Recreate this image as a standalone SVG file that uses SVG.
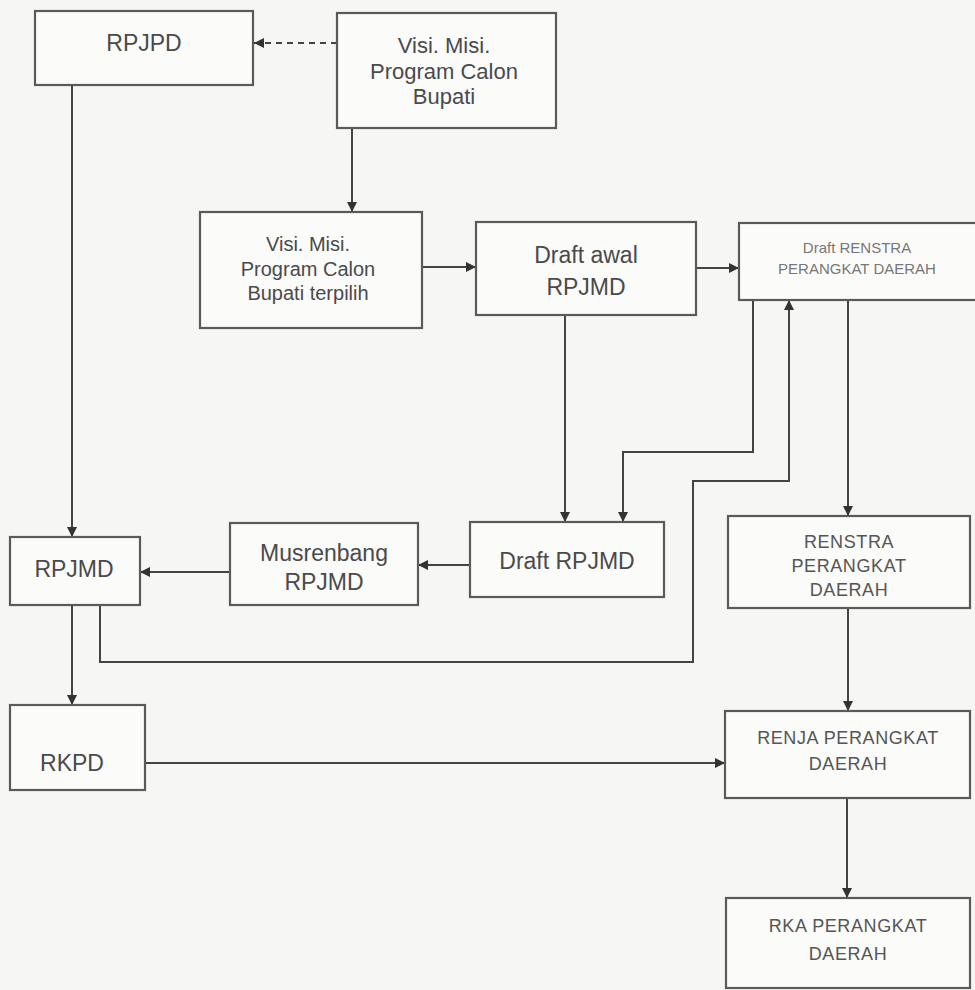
<svg xmlns="http://www.w3.org/2000/svg" width="975" height="990" viewBox="0 0 975 990">
<defs>
<marker id="ah" viewBox="0 0 10 10" refX="10" refY="5" markerWidth="10" markerHeight="10" markerUnits="userSpaceOnUse" orient="auto">
<path d="M0,0 L10,5 L0,10 z" fill="#333"/>
</marker>
</defs>
<style>
.box{fill:#fbfbfa;stroke:#5a5a5a;stroke-width:2.2}
.t{font-family:"Liberation Sans",Arial,sans-serif;font-size:23px;fill:#4a4a4a;text-anchor:middle}
.m{font-size:20px}
.v{font-size:22px}
.s{font-size:18px;letter-spacing:0.6px;fill:#555}
.xs{font-size:15px;fill:#777}
.c{fill:none;stroke:#444;stroke-width:2}
.d{stroke-dasharray:6 5}
</style>
<rect width="975" height="990" fill="#f6f6f4"/>
<g id="connectors">
<path class="c d" d="M337,43 L254,43" marker-end="url(#ah)"/>
<path class="c" d="M352,128 L352,212" marker-end="url(#ah)"/>
<path class="c" d="M422,267 L476,267" marker-end="url(#ah)"/>
<path class="c" d="M696,268 L739,268" marker-end="url(#ah)"/>
<path class="c" d="M72,85 L72,537" marker-end="url(#ah)"/>
<path class="c" d="M565,315 L565,522" marker-end="url(#ah)"/>
<path class="c" d="M753,300 L753,452 L623,452 L623,522" marker-end="url(#ah)"/>
<path class="c" d="M100,605 L100,662 L693,662 L693,481 L789,481 L789,300" marker-end="url(#ah)"/>
<path class="c" d="M470,565 L418,565" marker-end="url(#ah)"/>
<path class="c" d="M230,572 L140,572" marker-end="url(#ah)"/>
<path class="c" d="M72,605 L72,705" marker-end="url(#ah)"/>
<path class="c" d="M145,763 L725,763" marker-end="url(#ah)"/>
<path class="c" d="M848,300 L848,516" marker-end="url(#ah)"/>
<path class="c" d="M848,608 L848,711" marker-end="url(#ah)"/>
<path class="c" d="M847,798 L847,898" marker-end="url(#ah)"/>
</g>
<g id="rpjpd"><rect class="box" x="35" y="11" width="218" height="74"/><text class="t" x="144" y="51">RPJPD</text></g>
<g id="visi"><rect class="box" x="337" y="13" width="219" height="115"/>
<text class="t v" x="444" y="53">Visi. Misi.</text><text class="t v" x="444" y="79">Program Calon</text><text class="t v" x="444" y="104">Bupati</text></g>
<g id="visi-terpilih"><rect class="box" x="200" y="212" width="222" height="116"/>
<text class="t m" x="308" y="251">Visi. Misi.</text><text class="t m" x="308" y="276">Program Calon</text><text class="t m" x="308" y="300">Bupati terpilih</text></g>
<g id="draft-awal"><rect class="box" x="476" y="222" width="220" height="93"/>
<text class="t" x="586" y="263">Draft awal</text><text class="t" x="586" y="295">RPJMD</text></g>
<g id="draft-renstra"><rect class="box" x="739" y="223" width="240" height="77"/>
<text class="t xs" x="857" y="253">Draft RENSTRA</text><text class="t xs" x="857" y="274">PERANGKAT DAERAH</text></g>
<g id="draft-rpjmd"><rect class="box" x="470" y="522" width="194" height="75"/>
<text class="t" x="567" y="569">Draft RPJMD</text></g>
<g id="musrenbang"><rect class="box" x="230" y="523" width="188" height="82"/>
<text class="t" x="324" y="561">Musrenbang</text><text class="t" x="324" y="590">RPJMD</text></g>
<g id="rpjmd"><rect class="box" x="10" y="537" width="130" height="68"/>
<text class="t" x="74" y="577">RPJMD</text></g>
<g id="rkpd"><rect class="box" x="10" y="705" width="135" height="85"/>
<text class="t" x="72" y="771">RKPD</text></g>
<g id="renstra"><rect class="box" x="728" y="516" width="242" height="92"/>
<text class="t s" x="849" y="548">RENSTRA</text><text class="t s" x="849" y="572">PERANGKAT</text><text class="t s" x="849" y="596">DAERAH</text></g>
<g id="renja"><rect class="box" x="725" y="711" width="245" height="87"/>
<text class="t s" x="848" y="744">RENJA PERANGKAT</text><text class="t s" x="848" y="770">DAERAH</text></g>
<g id="rka"><rect class="box" x="726" y="898" width="244" height="90"/>
<text class="t s" x="848" y="932">RKA PERANGKAT</text><text class="t s" x="848" y="960">DAERAH</text></g>
</svg>
